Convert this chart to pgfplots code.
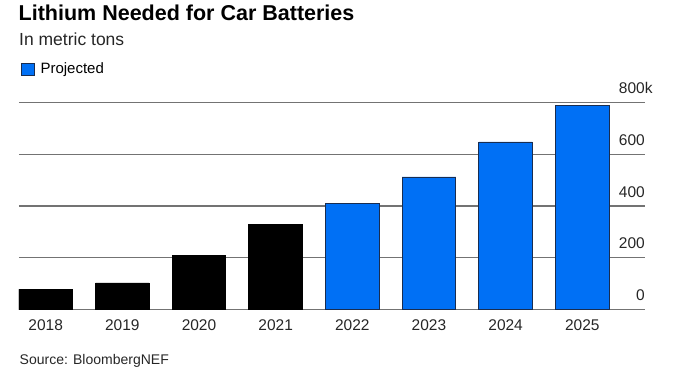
\documentclass[border=0pt]{standalone}
\usepackage{pgfplots}
\pgfplotsset{compat=1.18}
\usepackage{fontspec}
\setmainfont{Liberation Sans}
\definecolor{projblue}{RGB}{0,112,245}
\definecolor{bedge}{RGB}{25,45,80}
\definecolor{gridgray}{RGB}{115,115,115}
\begin{document}
\begin{tikzpicture}[x=1pt,y=1pt]
\path[use as bounding box] (0,0) rectangle (694,371);
\begin{axis}[
  at={(19pt,61.3pt)}, anchor=south west,
  scale only axis, width=626pt, height=207.4pt,
  xmin=-0.348, xmax=7.818, ymin=0, ymax=800,
  axis line style={draw=none},
  major tick length=0pt,
  ymajorgrids, grid style={gridgray, line width=1.2pt},
  ytick={0,200,400,600,800},
  yticklabels={0,200,400,600,800\rlap{k}},
  yticklabel pos=right,
  yticklabel style={anchor=south east, inner sep=0pt, yshift=8.5pt, font=\fontsize{15.5}{18}\selectfont, text=black!85},
  xtick={0,...,7},
  xticklabels={2018,2019,2020,2021,2022,2023,2024,2025},
  xticklabel style={anchor=north, inner sep=0pt, yshift=-9.5pt, font=\fontsize{15.5}{18}\selectfont, text=black!85},
  ybar, bar width=0.7, bar shift=0pt,
  legend style={at={(axis description cs:0.0032,1.1596)}, anchor=west, draw=none, fill=none, inner sep=0pt,
    font=\fontsize{15}{18}\selectfont, legend cell align=left},
  legend image code/.code={\draw[fill=projblue, draw=bedge, line width=0.8pt] (0pt,-5.8pt) rectangle (12.5pt,5.8pt);},
]
\addplot[fill=black, draw=black, line width=0.8pt, forget plot] coordinates {(0,78) (1,103) (2,208) (3,330)};
\addplot[fill=projblue, draw=bedge, line width=0.8pt] coordinates {(4,410) (5,512) (6,647) (7,788)};
\addlegendentry{\hspace{4pt}Projected}
\end{axis}
\node[anchor=base west, inner sep=0pt] at (18.5,350.3) {\fontsize{21.5}{24}\selectfont\bfseries Lithium Needed for Car Batteries};
\node[anchor=base west, inner sep=0pt, text=black!85] at (19,325.3) {\fontsize{17.5}{20}\selectfont In metric tons};
\node[anchor=base west, inner sep=0pt, text=black!85] at (19.5,6.7) {\fontsize{14}{16}\selectfont Source: BloombergNEF};
\end{tikzpicture}
\end{document}
